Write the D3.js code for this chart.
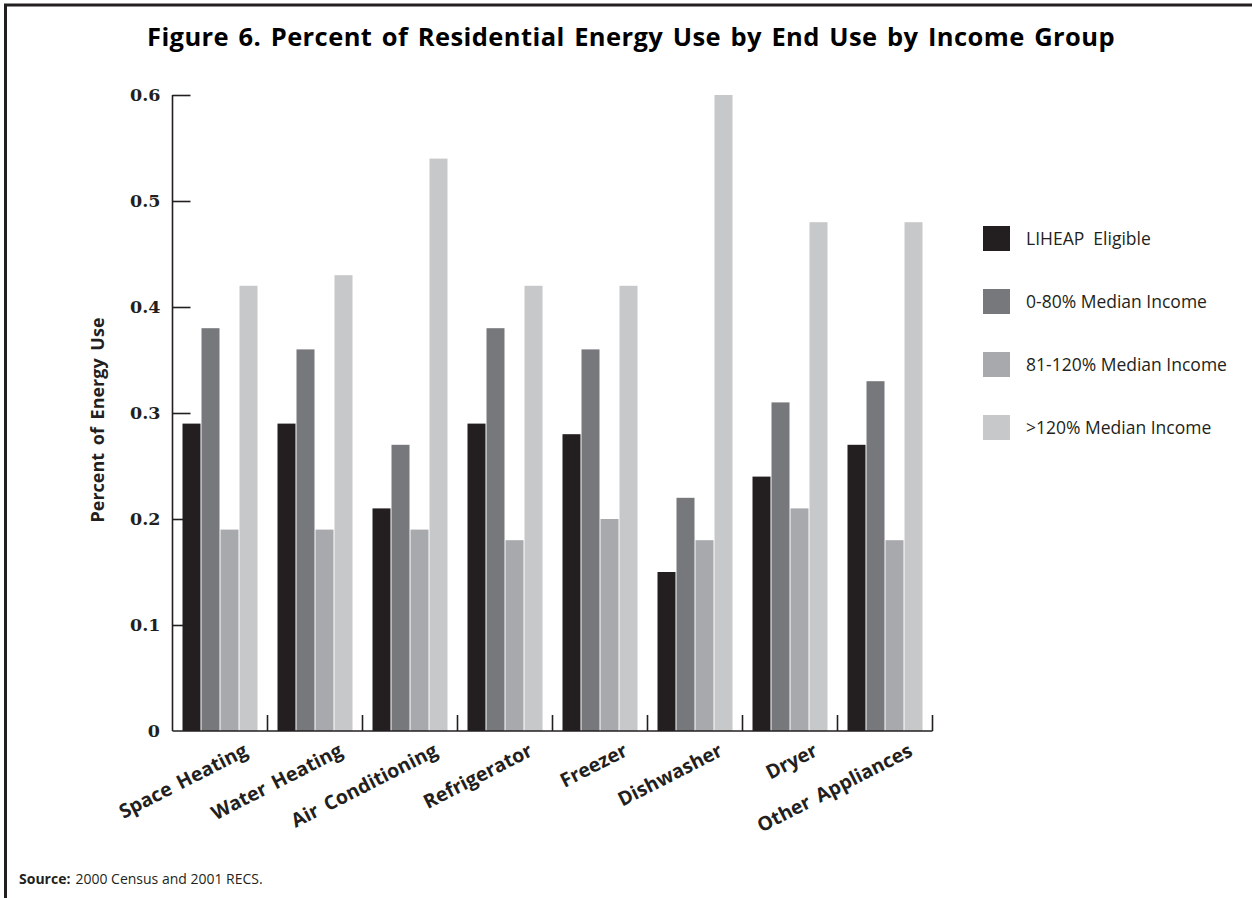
<!DOCTYPE html>
<html>
<head>
<meta charset="utf-8">
<script src="https://cdn.jsdelivr.net/npm/d3@7"></script>
<style>
  html, body { margin: 0; padding: 0; background: #fff; }
  svg { display: block; }
</style>
</head>
<body>
<svg id="chart" width="1252" height="898"></svg>
<script>
const categories = ["Space Heating", "Water Heating", "Air Conditioning", "Refrigerator", "Freezer", "Dishwasher", "Dryer", "Other Appliances"];
const seriesNames = ["LIHEAP  Eligible", "0-80% Median Income", "81-120% Median Income", ">120% Median Income"];
const liheap     = [0.29, 0.29, 0.21, 0.29, 0.28, 0.15, 0.24, 0.27];
const median0_80 = [0.38, 0.36, 0.27, 0.38, 0.36, 0.22, 0.31, 0.33];
const median81_120 = [0.19, 0.19, 0.19, 0.18, 0.20, 0.18, 0.21, 0.18];
const medianOver120 = [0.42, 0.43, 0.54, 0.42, 0.42, 0.60, 0.48, 0.48];
const yTicks = [0, 0.1, 0.2, 0.3, 0.4, 0.5, 0.6];
const colors = ["#231f20", "#77787b", "#a7a9ac", "#c7c8ca"];

const seriesValues = [liheap, median0_80, median81_120, medianOver120];
const svg = d3.select("#chart");
const ink = "#231f20";
const sans = "'Open Sans', 'Lato', sans-serif";

// frame
svg.append("line").attr("x1", 4).attr("x2", 1252).attr("y1", 5).attr("y2", 5)
  .attr("stroke", ink).attr("stroke-width", 3);
svg.append("line").attr("x1", 5.5).attr("x2", 5.5).attr("y1", 4).attr("y2", 898)
  .attr("stroke", ink).attr("stroke-width", 3);

// title
const title = svg.append("text")
  .attr("x", 631).attr("y", 46)
  .attr("text-anchor", "middle")
  .attr("font-family", sans).attr("font-weight", "bold").attr("font-size", 25.5)
  .attr("fill", "#000")
  .text("Figure 6. Percent of Residential Energy Use by End Use by Income Group");
{
  const target = 968;
  const w = title.node().getComputedTextLength();
  const txt = title.text();
  const words = txt.split(" ").length - 1;
  const extra = target - w;
  title.attr("word-spacing", (extra * 0.5 / words).toFixed(3))
       .attr("letter-spacing", (extra * 0.5 / txt.length).toFixed(3));
}

const x0 = d3.scaleBand().domain(categories).range([172.5, 932.5]).padding(0);
const x1 = d3.scaleBand().domain(d3.range(4)).range([10, 86]).padding(0);
const y = d3.scaleLinear().domain([0, 0.6]).range([731, 95]);

// bars
const groups = svg.append("g").selectAll("g")
  .data(categories).join("g")
  .attr("transform", d => `translate(${x0(d)},0)`);
groups.selectAll("rect")
  .data((d, i) => seriesValues.map((s, k) => ({ k, v: s[i] })))
  .join("rect")
  .attr("x", d => x1(d.k))
  .attr("width", x1.bandwidth() - 1)
  .attr("y", d => y(d.v))
  .attr("height", d => y(0) - y(d.v))
  .attr("fill", d => colors[d.k]);

// y axis
const yAxis = svg.append("g")
  .attr("transform", "translate(172.5,0)")
  .call(d3.axisLeft(y).tickValues(yTicks.slice(1)).tickSize(-18)
    .tickFormat(d3.format(".1f")));
yAxis.select(".domain").attr("stroke", ink).attr("stroke-width", 1.6)
  .attr("d", "M0,731V95");
yAxis.selectAll(".tick line").attr("stroke", ink).attr("stroke-width", 1.6);
yAxis.selectAll(".tick text")
  .attr("font-family", "'DejaVu Serif', serif").attr("font-weight", "bold")
  .attr("font-size", 17.5).attr("fill", ink).attr("x", -12);
// zero label
svg.append("text").attr("x", 160).attr("y", y(0)).attr("dy", "0.32em")
  .attr("text-anchor", "end")
  .attr("font-family", "'DejaVu Serif', serif").attr("font-weight", "bold")
  .attr("font-size", 17.5).attr("fill", ink).text(d3.format(".0f")(yTicks[0]));

// x axis baseline with separator ticks
const xAxis = svg.append("g")
  .attr("transform", `translate(0,${y(0)})`)
  .call(d3.axisBottom(x0).tickSize(0).tickFormat(""));
xAxis.select(".domain").attr("stroke", ink).attr("stroke-width", 1.6)
  .attr("d", `M172.5,0H932.5`);
xAxis.selectAll(".tick").remove();
const seps = categories.map(c => x0(c) + x0.bandwidth());
xAxis.selectAll("line.sep").data(seps).join("line")
  .attr("class", "sep")
  .attr("x1", d => d).attr("x2", d => d).attr("y1", 0).attr("y2", -16)
  .attr("stroke", ink).attr("stroke-width", 1.6);

// x labels
svg.append("g").selectAll("text")
  .data(categories).join("text")
  .attr("transform", d => `translate(${x0(d) + x0.bandwidth() / 2 + 29},755) rotate(-27)`)
  .attr("text-anchor", "end")
  .attr("font-family", sans).attr("font-weight", "bold").attr("font-size", 19.5)
  .attr("word-spacing", 3)
  .attr("fill", ink)
  .text(d => d);

// y axis title
svg.append("text")
  .attr("transform", "translate(104,420) rotate(-90)")
  .attr("text-anchor", "middle")
  .attr("font-family", sans).attr("font-weight", "bold").attr("font-size", 18)
  .attr("word-spacing", 3)
  .attr("fill", ink)
  .text("Percent of Energy Use");

// legend
const legend = svg.append("g").selectAll("g")
  .data(seriesNames).join("g")
  .attr("transform", (d, i) => `translate(983,${226 + i * 63})`);
legend.append("rect").attr("width", 27).attr("height", 25)
  .attr("fill", (d, i) => colors[i]);
legend.append("text").attr("x", 43).attr("y", 12.5).attr("dy", "0.35em")
  .attr("font-family", sans).attr("font-size", 17.5).attr("fill", ink)
  .attr("xml:space", "preserve").style("white-space", "pre")
  .text(d => d);

// source
const src = svg.append("text").attr("x", 19).attr("y", 884)
  .attr("font-family", sans).attr("font-size", 14).attr("fill", ink);
src.append("tspan").attr("font-weight", "bold").text("Source:");
src.append("tspan").attr("dx", 5).text("2000 Census and 2001 RECS.");
</script>
</body>
</html>
